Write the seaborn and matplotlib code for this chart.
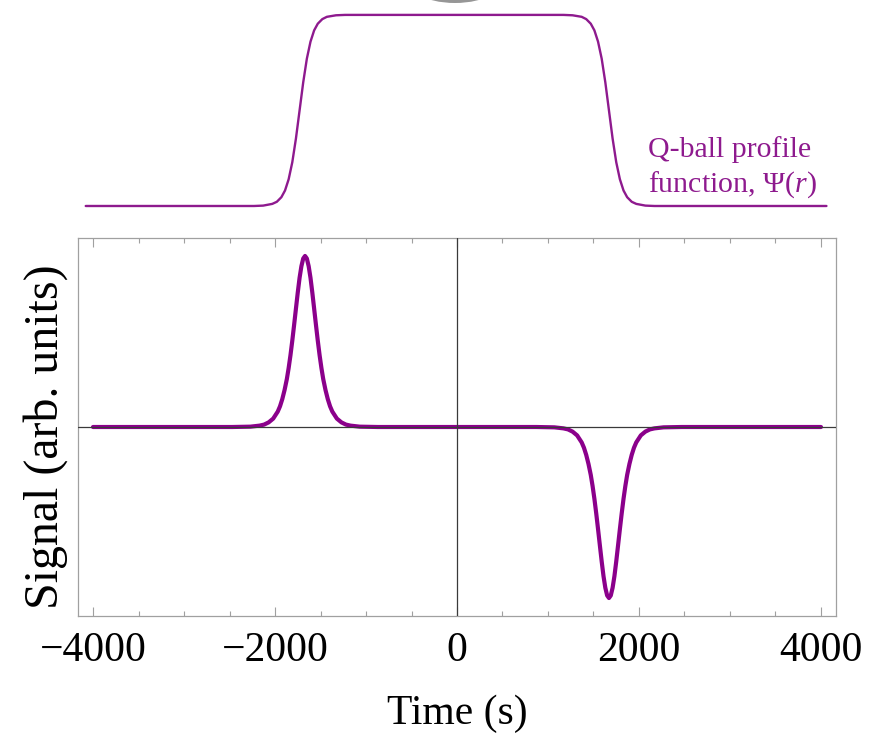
import matplotlib
matplotlib.use("Agg")
import matplotlib.pyplot as plt
from matplotlib.patches import Ellipse
from matplotlib.ticker import MultipleLocator
import seaborn as sns

# Detector signal as the Q-ball passes (time in s, arbitrary units)
time_s = [
    -4000,
    -2470, -2270, -2170, -2120, -2070, -2020, -1970, -1945, -1920, -1895,
    -1870, -1850, -1830, -1810, -1790, -1770, -1750, -1730, -1710, -1690,
    -1670,
    -1650, -1630, -1610, -1590, -1570, -1550, -1530, -1510, -1490, -1470,
    -1445, -1420, -1395, -1370, -1320, -1270, -1220, -1170, -1070, -870,
    870, 1070, 1170, 1220, 1270, 1320, 1370, 1395, 1420, 1445,
    1470, 1490, 1510, 1530, 1550, 1570, 1590, 1610, 1630, 1650,
    1670,
    1690, 1710, 1730, 1750, 1770, 1790, 1810, 1830, 1850, 1870,
    1895, 1920, 1945, 1970, 2020, 2070, 2120, 2170, 2270, 2470,
    4000,
]
signal = [
    0.0,
    0.000, 0.002, 0.008, 0.014, 0.027, 0.049, 0.090, 0.121, 0.163, 0.216,
    0.280, 0.345, 0.420, 0.505, 0.597, 0.692, 0.786, 0.872, 0.940, 0.985,
    1.000,
    0.985, 0.940, 0.872, 0.786, 0.692, 0.597, 0.505, 0.420, 0.345, 0.280,
    0.216, 0.163, 0.121, 0.090, 0.049, 0.027, 0.014, 0.008, 0.002, 0.000,
    -0.000, -0.002, -0.008, -0.014, -0.027, -0.049, -0.090, -0.121, -0.163, -0.216,
    -0.280, -0.345, -0.420, -0.505, -0.597, -0.692, -0.786, -0.872, -0.940, -0.985,
    -1.000,
    -0.985, -0.940, -0.872, -0.786, -0.692, -0.597, -0.505, -0.420, -0.345, -0.280,
    -0.216, -0.163, -0.121, -0.090, -0.049, -0.027, -0.014, -0.008, -0.002, -0.000,
    0.0,
]

# Q-ball profile function drawn above the signal panel
profile_t = [
    -4080, -2230, -2130, -2030, -1980, -1930, -1890, -1850, -1810, -1770,
    -1730, -1690, -1650, -1610, -1570, -1530, -1480, -1430, -1330, -1230,
    1170, 1270, 1370, 1420, 1470, 1510, 1550, 1590, 1630, 1670,
    1710, 1750, 1790, 1830, 1870, 1920, 1970, 2070, 2170, 4060,
]
profile_psi = [
    0.0, 0.0, 0.002, 0.011, 0.022, 0.046, 0.081, 0.140, 0.229, 0.353,
    0.500, 0.647, 0.771, 0.860, 0.919, 0.954, 0.978, 0.990, 0.998, 1.0,
    1.0, 0.998, 0.990, 0.978, 0.954, 0.919, 0.860, 0.771, 0.647, 0.500,
    0.353, 0.229, 0.140, 0.081, 0.046, 0.022, 0.011, 0.002, 0.0, 0.0,
]

x_major = [-4000, -2000, 0, 2000, 4000]
x_labels = ["\u22124000", "\u22122000", "0", "2000", "4000"]

PURPLE = "#8b008b"
FRAME = "#a0a0a0"

sns.set_theme(style="white")
plt.rcParams["font.family"] = ["Liberation Serif", "DejaVu Serif"]
plt.rcParams["mathtext.fontset"] = "custom"
plt.rcParams["mathtext.rm"] = "Liberation Serif"
plt.rcParams["mathtext.it"] = "Liberation Serif:italic"

W, H = 871, 735
fig = plt.figure(figsize=(W / 100, H / 100), dpi=100)
fig.patch.set_facecolor("white")

# ---- signal panel ----
ax = fig.add_axes([78 / W, 1 - 616 / H, 758 / W, 378 / H])
ax.set_facecolor("white")
sns.lineplot(x=time_s, y=signal, ax=ax, color=PURPLE, linewidth=3.0,
             estimator=None, sort=False, zorder=3)
ax.axhline(0, color="#3a3a3a", linewidth=0.9, zorder=4)
ax.axvline(0, color="#3a3a3a", linewidth=0.9, zorder=4)
ax.set_xlim(-4165, 4165)
ax.set_ylim(-1.105, 1.105)

ax.set_xticks(x_major, x_labels)
ax.xaxis.set_minor_locator(MultipleLocator(500))
ax.set_yticks([])
ax.tick_params(axis="x", which="both", direction="in", top=True, bottom=True,
               color=FRAME, labelcolor="black", width=0.8)
ax.tick_params(axis="x", which="major", length=6.5, labelsize=30, pad=11)
ax.tick_params(axis="x", which="minor", length=3.5)
for sp in ax.spines.values():
    sp.set_color(FRAME)
    sp.set_linewidth(0.9)

ax.set_xlabel("Time (s)", fontsize=30, labelpad=18, color="black")
ax.set_ylabel("Signal (arb. units)", fontsize=34.5, labelpad=7, color="black")
ax.yaxis.label.set_y(0.474)

# ---- profile panel ----
ax_top = fig.add_axes([78 / W, 1 - 225 / H, 758 / W, 225 / H])
sns.lineplot(x=profile_t, y=profile_psi, ax=ax_top, color="#8e1a8e",
             linewidth=1.7, estimator=None, sort=False)
ax_top.set_xlim(-4165, 4165)
ax_top.set_ylim(-0.0995, 1.078)
ax_top.axis("off")

fig.text(648 / W, 1 - 157 / H, "Q-ball profile", fontsize=21.5,
         color="#8e1a8e", ha="left", va="baseline")
fig.text(648 / W, 1 - 192 / H, r"function, $\mathrm{\Psi(}r\mathrm{)}$",
         fontsize=21.5, color="#8e1a8e", ha="left", va="baseline")

# edge of the sphere sketch sitting above the figure
fig.add_artist(Ellipse((455 / W, 1 + 27 / H), 110 / W, 60 / H,
                       transform=fig.transFigure, facecolor="#6a6a6a",
                       edgecolor="none", alpha=0.7, clip_on=False))

fig.savefig("out.png", dpi=100, facecolor="white")
